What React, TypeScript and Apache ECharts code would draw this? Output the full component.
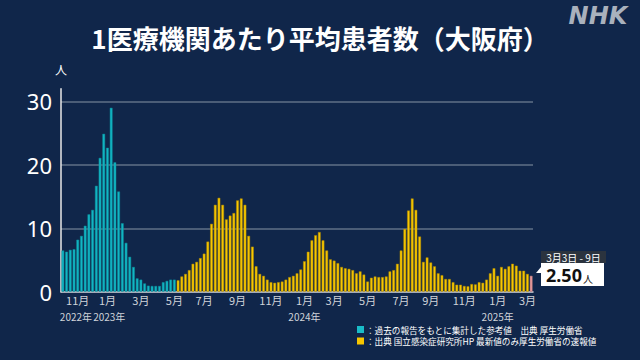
import React, { useEffect, useRef } from "react";
import * as echarts from "echarts";

// First week shown: Monday 2022-10-03, weekly bars up to 2025-03-03 (3月3日 - 9日)
const startYear = 2022;
const startMonthIndex = 9; // October
const startDay = 3;

// Teal: 過去の報告をもとに集計した参考値 (until early May 2023)
const referenceValues = [
  6.5, 6.3, 6.6, 6.7, 8.2, 8.8, 10.4, 12.2, 12.9, 16.7, 21.1, 24.9, 22.7, 29.0, 20.4, 15.8,
  10.8, 7.7, 5.5, 3.9, 2.1, 1.9, 1.3, 0.95, 0.9, 0.9, 0.9, 1.5, 1.7, 1.9, 1.9,
];

// Yellow: 国立感染症研究所 sentinel values
const sentinelValues = [
  1.8, 2.4, 2.8, 3.4, 4.4, 4.7, 5.3, 6.0, 7.9, 10.7, 13.7, 14.8, 13.7, 11.4, 12.0, 12.4, 14.4,
  14.7, 13.7, 8.8, 7.1, 4.0, 2.8, 2.5, 1.9, 1.5, 1.4, 1.5, 1.6, 1.9, 2.3, 2.5, 2.9, 3.5, 4.8,
  6.3, 8.1, 8.9, 9.4, 8.1, 6.5, 5.1, 4.9, 4.5, 3.9, 3.7, 3.6, 3.4, 2.9, 3.2, 2.7, 1.6,
  2.2, 2.4, 2.3, 2.3, 2.4, 3.2, 3.4, 4.4, 6.5, 9.9, 12.8, 14.7, 12.9, 8.7, 4.7, 5.4, 4.6, 4.0,
  2.9, 2.6,
  2.0, 2.0, 1.5, 1.1, 1.1, 0.9, 0.85, 1.2, 1.15, 1.5, 1.4, 1.9, 2.9, 3.7, 2.5, 3.9, 3.6, 4.0,
  4.4, 4.1, 3.3, 3.3, 2.8,
];

// Latest (速報値)
const latestValue = 2.5;
const latestPeriod = "3月3日 - 9日";
const latestUnit = "人";

const yTickValues = [0, 10, 20, 30];
const yUnit = "人";
const titleText = "1医療機関あたり平均患者数（大阪府）";
const legendItems = [
  { color: "#19bcc8", text: "：過去の報告をもとに集計した参考値　出典 厚生労働省" },
  { color: "#f7c600", text: "：出典 国立感染症研究所HP 最新値のみ厚生労働省の速報値" },
];

const TEAL = "#12b6c4";
const YELLOW = "#f8c800";
const PINK = "#e79a9c";
const BG = "#10264a";
const FONT = "'Noto Sans CJK JP', 'Noto Sans', sans-serif";

const allValues = [...referenceValues, ...sentinelValues, latestValue];
const DAY = 86400000;
const startMs = Date.UTC(startYear, startMonthIndex, startDay);
const categories = allValues.map((_, i) => {
  const d = new Date(startMs + i * 7 * DAY);
  return `${d.getUTCFullYear()}/${d.getUTCMonth() + 1}/${d.getUTCDate()}`;
});

// A week is labelled when it contains the 1st of an odd month
function labelInfo(index: number) {
  const end = new Date(startMs + index * 7 * DAY + 6 * DAY);
  if (end.getUTCDate() > 7) return null;
  const m = end.getUTCMonth() + 1;
  if (m % 2 === 0) return null;
  return { month: m, year: end.getUTCFullYear() };
}

const monthLabelIndices: number[] = [];
for (let i = 0; i < allValues.length; i++) if (labelInfo(i)) monthLabelIndices.push(i);
// year captions: under the first month label and under every January
const yearLabelIndices = monthLabelIndices.filter(
  (i, k) => k === 0 || (labelInfo(i) as any).month === 1
);

export default function App() {
  const ref = useRef<HTMLDivElement>(null);

  useEffect(() => {
    if (!ref.current) return;
    const chart = echarts.init(ref.current, null, { renderer: "svg" });

    const data = allValues.map((v, i) => {
      let color = YELLOW;
      let border = "#b08a00";
      if (i < referenceValues.length) {
        color = TEAL;
        border = "#0c8c98";
      } else if (i === allValues.length - 1) {
        color = PINK;
        border = "#c07a7c";
      }
      return { value: v, itemStyle: { color, borderColor: border, borderWidth: 0.5 } };
    });

    chart.setOption({
      animation: false,
      backgroundColor: BG,
      grid: { left: 61, right: 107, top: 88.8, bottom: 68.3, containLabel: false },
      xAxis: {
        type: "category",
        data: categories,
        boundaryGap: true,
        axisLine: { show: true, lineStyle: { color: "#d6d9de", width: 1.5 } },
        axisTick: { show: false },
        axisLabel: {
          interval: (index: number) => labelInfo(index) !== null,
          showMinLabel: true,
          showMaxLabel: true,
          formatter: (_: string, index: number) => {
            const info = labelInfo(index);
            return info ? `${info.month}月` : "";
          },
          color: "#cfd3d9",
          fontSize: 11,
          margin: 3,
          fontFamily: FONT,
        },
        splitLine: { show: false },
      },
      yAxis: {
        type: "value",
        min: yTickValues[0],
        max: 32,
        interval: yTickValues[1] - yTickValues[0],
        axisLine: { show: true, lineStyle: { color: "#e8e8e8", width: 1.5 } },
        axisTick: { show: false },
        axisLabel: {
          color: "#ffffff",
          fontSize: 22,
          margin: 9,
          fontFamily: "'Noto Sans', sans-serif",
          showMaxLabel: false,
          formatter: (v: number) => (yTickValues.includes(v) ? String(v) : ""),
        },
        splitLine: {
          show: true,
          showMinLine: false,
          showMaxLine: false,
          lineStyle: { color: "rgba(150,160,175,0.6)", width: 1.5 },
        },
      },
      series: [
        {
          type: "bar",
          data,
          barCategoryGap: "28%",
        },
      ],
    });

    const graphics: any[] = [
      {
        type: "text",
        x: 320,
        y: 37,
        style: {
          text: titleText,
          fill: "#ffffff",
          font: `bold 26px ${FONT}`,
          textAlign: "center",
          textVerticalAlign: "middle",
        },
      },
      {
        type: "text",
        x: 598,
        y: 16,
        style: {
          text: "NHK",
          fill: "#a9b1bd",
          font: "italic 900 24px 'DejaVu Sans', sans-serif",
          textAlign: "center",
          textVerticalAlign: "middle",
        },
      },
      {
        type: "text",
        x: 61,
        y: 69,
        style: {
          text: yUnit,
          fill: "#ffffff",
          font: `12px ${FONT}`,
          textAlign: "center",
          textVerticalAlign: "middle",
        },
      },
      // latest value callout
      {
        type: "polygon",
        shape: { points: [[536, 273], [541, 267], [541, 273]] },
        style: { fill: "#ffffff" },
      },
      {
        type: "rect",
        shape: { x: 541, y: 251, width: 65, height: 12 },
        style: { fill: "#2b333e" },
      },
      {
        type: "text",
        x: 573.5,
        y: 257.5,
        style: {
          text: latestPeriod,
          fill: "#ffffff",
          font: `10px ${FONT}`,
          textAlign: "center",
          textVerticalAlign: "middle",
        },
      },
      {
        type: "rect",
        shape: { x: 541, y: 263, width: 63, height: 23 },
        style: { fill: "#ffffff" },
      },
      {
        type: "text",
        x: 546,
        y: 275,
        style: {
          text: `{v|${latestValue.toFixed(2)}}{u|${latestUnit}}`,
          rich: {
            v: { fill: "#111111", font: `bold 18px 'Noto Sans', sans-serif` },
            u: { fill: "#111111", font: `10px ${FONT}`, padding: [6, 0, 0, 1] },
          },
          textVerticalAlign: "middle",
        },
      },
    ];

    // year captions placed through the category axis scale
    yearLabelIndices.forEach((i, k) => {
      const info = labelInfo(i) as any;
      let x = chart.convertToPixel({ xAxisIndex: 0 }, categories[i]) as number;
      // the first two captions sit side by side; nudge them apart slightly
      if (k === 0) x -= 1.8;
      if (k === 1) x += 1.8;
      graphics.push({
        type: "text",
        x,
        y: 316.5,
        style: {
          text: `${info.year}年`,
          fill: "#cfd3d9",
          font: `10px ${FONT}`,
          textAlign: "center",
          textVerticalAlign: "middle",
        },
      });
    });

    legendItems.forEach((item, k) => {
      const cy = 329.5 + k * 11.5;
      graphics.push({
        type: "rect",
        shape: { x: 357, y: cy - 3.5, width: 7, height: 7 },
        style: { fill: item.color },
      });
      graphics.push({
        type: "text",
        x: 366,
        y: cy,
        style: {
          text: item.text,
          fill: "#ffffff",
          font: `8.6px ${FONT}`,
          textVerticalAlign: "middle",
        },
      });
    });

    chart.setOption({ graphic: graphics });

    return () => chart.dispose();
  }, []);

  return (
    <div
      ref={ref}
      style={{ position: "fixed", left: 0, top: 0, width: 640, height: 360, background: BG }}
    />
  );
}
